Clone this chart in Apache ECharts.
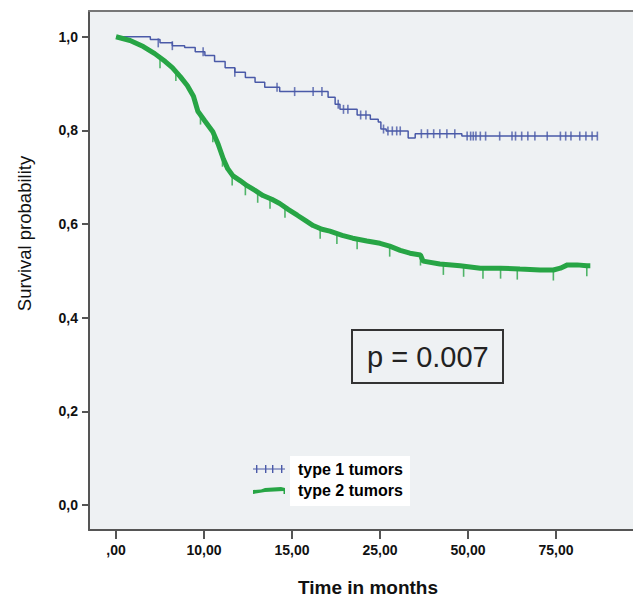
<!DOCTYPE html>
<html>
<head>
<meta charset="utf-8">
<script src="https://cdn.jsdelivr.net/npm/echarts@6/dist/echarts.min.js"></script>
<style>
  html, body { margin: 0; padding: 0; background: #fff; }
  #chart { width: 633px; height: 602px; }
</style>
</head>
<body>
<div id="chart"></div>
<script>
// x is in tick-position units: the axis spaces its labels evenly
const xTickLabels = [',00', '10,00', '15,00', '25,00', '50,00', '75,00'];
const xTickValues = [0, 1, 2, 3, 4, 5];
const yTickValues = [0, 0.2, 0.4, 0.6, 0.8, 1.0];

const seriesNames = ['type 1 tumors', 'type 2 tumors'];

// type 1 tumors, Kaplan-Meier steps [x, survival]
const type1Curve = [
    [0, 1.000], [0.39, 0.994], [0.50, 0.987], [0.64, 0.981], [0.78, 0.977],
    [0.90, 0.968], [1.01, 0.960], [1.12, 0.947], [1.24, 0.934], [1.35, 0.924],
    [1.47, 0.913], [1.58, 0.903], [1.69, 0.892], [1.86, 0.883], [2.41, 0.871],
    [2.49, 0.856], [2.545, 0.845], [2.74, 0.833], [2.89, 0.824], [2.98, 0.818],
    [3.01, 0.803], [3.07, 0.799], [3.32, 0.784], [3.40, 0.793], [3.93, 0.788],
    [5.47, 0.788]
];
const type1Censored = [
    [0.48, 0.987], [0.64, 0.981], [0.99, 0.968], [1.35, 0.924], [1.83, 0.892],
    [2.03, 0.883], [2.24, 0.883], [2.34, 0.883], [2.525, 0.856], [2.585, 0.845],
    [2.635, 0.845], [2.78, 0.833], [2.84, 0.833], [3.04, 0.803], [3.09, 0.799],
    [3.14, 0.799], [3.19, 0.799], [3.23, 0.799], [3.47, 0.793], [3.54, 0.793],
    [3.61, 0.793], [3.68, 0.793], [3.76, 0.793], [3.85, 0.793], [3.99, 0.788],
    [4.03, 0.788], [4.06, 0.788], [4.09, 0.788], [4.14, 0.788], [4.20, 0.788],
    [4.36, 0.788], [4.50, 0.788], [4.54, 0.788], [4.61, 0.788], [4.68, 0.788],
    [4.76, 0.788], [4.90, 0.788], [5.05, 0.788], [5.11, 0.788], [5.17, 0.788],
    [5.27, 0.788], [5.34, 0.788], [5.41, 0.788], [5.47, 0.788]
];

// type 2 tumors
const type2Curve = [
    [0, 1.000], [0.16, 0.992], [0.31, 0.979], [0.44, 0.964], [0.56, 0.947],
    [0.64, 0.934], [0.73, 0.915], [0.81, 0.896], [0.88, 0.873], [0.93, 0.841],
    [1.01, 0.820], [1.10, 0.797], [1.16, 0.771], [1.22, 0.739], [1.27, 0.718],
    [1.33, 0.703], [1.41, 0.693], [1.49, 0.682], [1.58, 0.672], [1.67, 0.661],
    [1.77, 0.653], [1.86, 0.644], [1.96, 0.631], [2.06, 0.619], [2.15, 0.608],
    [2.24, 0.597], [2.34, 0.589], [2.43, 0.585], [2.57, 0.576], [2.69, 0.570],
    [2.85, 0.564], [3.00, 0.559], [3.11, 0.553], [3.23, 0.544], [3.34, 0.538],
    [3.46, 0.534], [3.49, 0.521], [3.68, 0.515], [3.91, 0.511], [4.14, 0.506],
    [4.37, 0.506], [4.59, 0.504], [4.82, 0.502], [4.97, 0.502], [5.05, 0.506],
    [5.13, 0.513], [5.24, 0.513], [5.35, 0.511], [5.39, 0.511]
];
const type2Censored = [
    [0.50, 0.955], [0.68, 0.928], [0.96, 0.835], [1.10, 0.797], [1.21, 0.745],
    [1.32, 0.705], [1.47, 0.684], [1.61, 0.668], [1.75, 0.655], [1.92, 0.636],
    [2.32, 0.591], [2.51, 0.580], [2.74, 0.569], [3.11, 0.553], [3.46, 0.534],
    [3.72, 0.514], [3.95, 0.510], [4.17, 0.506], [4.37, 0.506], [4.56, 0.504],
    [4.97, 0.502], [5.35, 0.511]
];

const pValueText = 'p = 0.007';

const BLUE = '#4a5aa8';
const GREEN = '#27a545';
const AXIS = '#555';
const FONT = '"Liberation Sans", Arial, sans-serif';

const legendText = {
    fontFamily: FONT,
    fontSize: 16,
    fontWeight: 'bold',
    color: '#000',
    backgroundColor: '#fff',
    lineHeight: 21,
    width: 108
};

const chart = echarts.init(document.getElementById('chart'), null, { renderer: 'svg' });

const option = {
    animation: false,
    backgroundColor: '#fff',
    title: {
        text: pValueText,
        left: 352,
        top: 330,
        padding: [10, 15, 10, 15],
        borderColor: '#333',
        borderWidth: 2,
        textStyle: {
            fontFamily: FONT,
            fontSize: 29,
            fontWeight: 'normal',
            color: '#222',
            lineHeight: 33
        }
    },
    // one legend per entry so each white label box can be padded on its own
    legend: [
        {
            z: 6,
            left: 253,
            top: 456,
            itemWidth: 32,
            itemHeight: 10,
            padding: 0,
            textStyle: Object.assign({}, legendText, { padding: [5, 4, 0, 8] }),
            data: [{
                name: seriesNames[0],
                icon: 'path://M0,4.4h32v1.2H0z M3,1h1.4v8H3z M12,1h1.4v8H12z M19,1h1.4v8H19z M28,1h1.4v8H28z'
            }]
        },
        {
            z: 4,
            left: 253,
            top: 475,
            itemWidth: 32,
            itemHeight: 10,
            padding: 0,
            textStyle: Object.assign({}, legendText, { padding: [0, 4, 10, 8] }),
            data: [{
                name: seriesNames[1],
                icon: 'path://M0,5 L8,4.6 L12,3 L28,2 L32,3 L32,9 L30.5,9 L30.5,6 L12,7 L0,9 Z'
            }]
        }
    ],
    grid: {
        left: 89,
        top: 11,
        right: 0,
        bottom: 67,
        show: true,
        backgroundColor: '#eef1f3',
        borderWidth: 0
    },
    xAxis: [
        {
            type: 'value',
            min: -0.307,
            max: 5.875,
            name: 'Time in months',
            nameLocation: 'middle',
            nameGap: 48,
            nameTextStyle: {
                fontFamily: FONT,
                fontSize: 19,
                fontWeight: 'bold',
                color: '#111',
                padding: [0, 0, 0, 14]
            },
            axisLine: { show: true, onZero: false, lineStyle: { color: AXIS, width: 2 } },
            axisTick: {
                show: true,
                length: 9,
                customValues: xTickValues,
                lineStyle: { color: AXIS, width: 2 }
            },
            axisLabel: {
                customValues: xTickValues,
                margin: 13,
                fontFamily: FONT,
                fontSize: 14,
                fontWeight: 'bold',
                color: '#111',
                formatter: function (v) {
                    return xTickLabels[Math.round(v)];
                }
            },
            splitLine: { show: false }
        },
        {
            type: 'value',
            position: 'top',
            min: -0.307,
            max: 5.875,
            axisLine: { show: true, onZero: false, lineStyle: { color: '#777', width: 2 } },
            axisTick: { show: false },
            axisLabel: { show: false },
            splitLine: { show: false }
        }
    ],
    yAxis: {
        type: 'value',
        min: -0.053,
        max: 1.055,
        name: 'Survival probability',
        nameLocation: 'middle',
        nameGap: 55,
        nameTextStyle: {
            fontFamily: FONT,
            fontSize: 18.5,
            color: '#111',
            padding: [0, 0, 0, 74]
        },
        axisLine: { show: true, onZero: false, lineStyle: { color: AXIS, width: 2 } },
        axisTick: {
            show: true,
            length: 7,
            customValues: yTickValues,
            lineStyle: { color: AXIS, width: 2 }
        },
        axisLabel: {
            customValues: yTickValues,
            margin: 11,
            fontFamily: FONT,
            fontSize: 14,
            fontWeight: 'bold',
            color: '#111',
            formatter: function (v) {
                return v.toFixed(1).replace('.', ',');
            }
        },
        splitLine: { show: false }
    },
    series: [
        {
            name: seriesNames[0],
            type: 'line',
            step: 'end',
            showSymbol: false,
            color: BLUE,
            lineStyle: { color: BLUE, width: 1.5 },
            data: type1Curve,
            z: 2
        },
        {
            name: seriesNames[0] + ' censored',
            type: 'scatter',
            symbol: 'rect',
            symbolSize: [1.6, 9],
            itemStyle: { color: BLUE },
            data: type1Censored,
            z: 2
        },
        {
            name: seriesNames[1],
            type: 'line',
            showSymbol: false,
            color: GREEN,
            lineStyle: { color: GREEN, width: 5 },
            data: type2Curve,
            z: 3
        },
        {
            name: seriesNames[1] + ' censored',
            type: 'scatter',
            symbol: 'rect',
            symbolSize: [1.6, 11],
            symbolOffset: [0, 5],
            itemStyle: { color: GREEN },
            data: type2Censored,
            z: 3
        }
    ]
};

chart.setOption(option);
</script>
</body>
</html>
